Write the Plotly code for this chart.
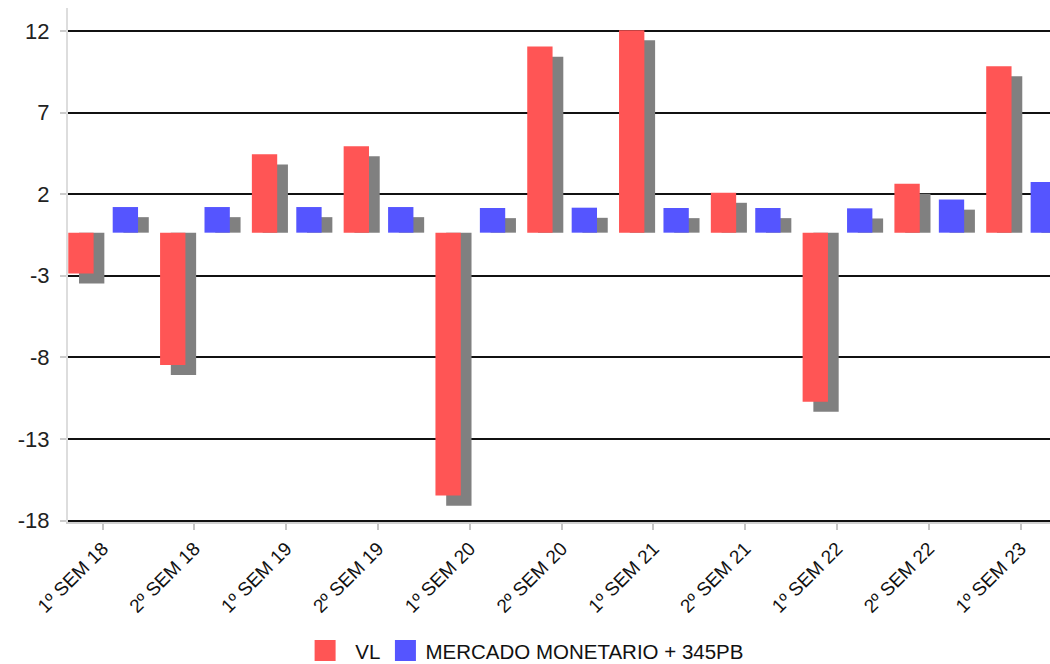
import plotly.graph_objects as go

categories = ["1º SEM 18", "2º SEM 18", "1º SEM 19", "2º SEM 19", "1º SEM 20",
              "2º SEM 20", "1º SEM 21", "2º SEM 21", "1º SEM 22", "2º SEM 22", "1º SEM 23"]
vl = [-2.5, -8.1, 4.8, 5.3, -16.1, 11.4, 12.4, 2.45, -10.35, 3.0, 10.2]
mercado = [1.57, 1.57, 1.57, 1.57, 1.51, 1.53, 1.51, 1.51, 1.49, 2.03, 3.11]
tick_labels = [12, 7, 2, -3, -8, -13, -18]

RED = "#ff5555"
BLUE = "#5555ff"
SHADOW = "#808080"
FONT = "Liberation Sans, Arial, sans-serif"

idx = list(range(len(categories)))
bar_w = 0.276
red_off = -0.375
blue_off = 0.109
sh_dx = 0.117
sh_dy = 0.62
tick_shift = 0.36

fig = go.Figure()
# shadows
fig.add_trace(go.Bar(x=idx, y=[v - sh_dy for v in vl], width=bar_w, offset=red_off + sh_dx,
                     marker=dict(color=SHADOW, line=dict(width=0)), showlegend=False, hoverinfo="skip"))
fig.add_trace(go.Bar(x=idx, y=[v - sh_dy for v in mercado], width=bar_w, offset=blue_off + sh_dx,
                     marker=dict(color=SHADOW, line=dict(width=0)), showlegend=False, hoverinfo="skip"))
# main bars
fig.add_trace(go.Bar(x=idx, y=vl, width=bar_w, offset=red_off, name="VL",
                     marker=dict(color=RED, line=dict(width=0)), showlegend=False))
fig.add_trace(go.Bar(x=idx, y=mercado, width=bar_w, offset=blue_off, name="MERCADO MONETARIO + 345PB",
                     marker=dict(color=BLUE, line=dict(width=0)), showlegend=False))
# legend entries
for nm, col in [("\u2002VL", RED), ("MERCADO MONETARIO + 345PB", BLUE)]:
    fig.add_trace(go.Scatter(x=[None], y=[None], mode="markers", name=nm,
                             marker=dict(symbol="square", size=16, color=col,
                                         line=dict(color=col, width=5))))

fig.update_layout(
    width=1050, height=664,
    barmode="overlay",
    plot_bgcolor="white", paper_bgcolor="white",
    margin=dict(l=68, r=0, t=8, b=142),
    font=dict(family=FONT, color="#111111"),
    showlegend=True,
    legend=dict(orientation="h", xref="container", yref="container",
                x=0.502, xanchor="center", y=0.02, yanchor="middle",
                font=dict(size=20.5, family=FONT), itemclick=False),
    xaxis=dict(range=[-0.378, 10.32], tickmode="array", tickvals=idx, ticktext=categories,
               tickangle=-45, tickfont=dict(size=19, family=FONT, color="#111111"),
               showgrid=False, zeroline=False, showline=True, linecolor="#d0d0d0", linewidth=2,
               ticks="outside", ticklen=6, tickcolor="#c4c4c4", tickwidth=2),
    yaxis=dict(range=[-17.72, 13.76], tickmode="array",
               tickvals=[t + tick_shift for t in tick_labels], ticktext=[str(t) for t in tick_labels],
               tickfont=dict(size=22, family=FONT, color="#222222"),
               showgrid=True, gridcolor="#111111", gridwidth=2,
               zeroline=False, showline=True, linecolor="#dddddd", linewidth=2,
               ticks="outside", ticklen=6, tickcolor="#cccccc", tickwidth=2,
               ticklabelstandoff=6),
)

fig.write_html("out.html")
